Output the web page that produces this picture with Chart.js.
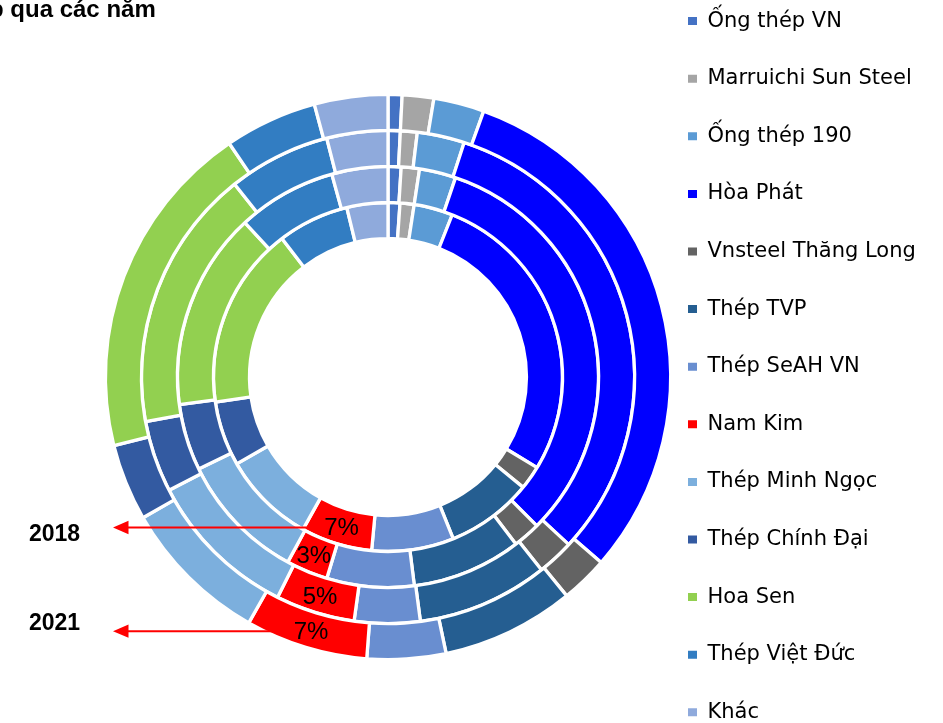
<!DOCTYPE html>
<html>
<head>
<meta charset="utf-8">
<script src="https://cdn.jsdelivr.net/npm/chart.js@4.4.1/dist/chart.umd.min.js"></script>
<style>
html,body{margin:0;padding:0;background:#fff;overflow:hidden;width:943px;height:723px;}
#wrap{position:relative;width:943px;height:723px;overflow:hidden;background:#fff;}
#c{position:absolute;left:0;top:-26px;width:943px;height:806px;}
#title{position:absolute;left:-11px;top:-3px;font:bold 24px "Liberation Sans",Arial,sans-serif;line-height:24px;color:#000;white-space:nowrap;}
</style>
</head>
<body>
<div id="wrap">
  <canvas id="c" width="943" height="806"></canvas>
  <div id="title">p qua các năm</div>
</div>
<script>
// ---- data (market share %) ----
const categories = ['Ống thép VN','Marruichi Sun Steel','Ống thép 190','Hòa Phát','Vnsteel Thăng Long','Thép TVP','Thép SeAH VN','Nam Kim','Thép Minh Ngọc','Thép Chính Đại','Hoa Sen','Thép Việt Đức','Khác'];
const years = ['2018','2019','2020','2021'];
const share2018 = [1.1, 1.3, 3.6, 27.7, 2.2, 8.0, 7.6, 6.6, 8.6, 6.0, 16.9, 6.6, 3.8];
const share2019 = [1.0, 1.4, 2.8, 32.3, 2.1, 8.4, 6.7, 3.2, 9.9, 5.1, 15.2, 7.6, 4.3];
const share2020 = [0.8, 1.1, 3.1, 31.9, 2.4, 8.6, 4.3, 5.2, 10.0, 4.7, 17.2, 6.7, 4.0];
const share2021 = [0.8, 1.8, 2.9, 30.9, 2.7, 7.6, 4.5, 7.0, 8.5, 4.4, 19.4, 5.3, 4.2];
const colors = ['#4472C4','#A5A5A5','#5B9BD5','#0000FF','#636363','#255E91','#698ED0','#FF0000','#7CAFDD','#335AA1','#92D050','#327DC2','#8FAADC'];
const highlightCategory = 'Nam Kim';
const arrowYears = ['2018','2021'];

// ---- layout ----
const CENTER_X = 388;
const LEGEND_BOX_X = 688;
const LEGEND_FONT = 21, LEGEND_PAD = 36.6, BOX_W = 9, BOX_H = 8;
const mctx = document.createElement('canvas').getContext('2d');
mctx.font = LEGEND_FONT + 'px DejaVu Sans';
const maxText = Math.max(...categories.map(t => mctx.measureText(t).width));
// Chart.js adds 10px to the width of a vertical legend
const padRight = 943 - LEGEND_BOX_X - (BOX_W + LEGEND_FONT / 2 + maxText) - 10;
const chartRight = LEGEND_BOX_X - LEGEND_PAD;
const padLeft = 2 * CENTER_X - chartRight;

// outer ring first (2021) -> inner ring (2018)
const rings = [
  {year: '2021', data: share2021},
  {year: '2020', data: share2020},
  {year: '2019', data: share2019},
  {year: '2018', data: share2018}
];

Chart.defaults.font.family = 'Liberation Sans';

const annotations = {
  id: 'annotations',
  afterDatasetsDraw(chart) {
    const ctx = chart.ctx;
    const k = categories.indexOf(highlightCategory);
    const pts = {};
    chart.data.datasets.forEach((ds, di) => {
      const arc = chart.getDatasetMeta(di).data[k];
      pts[ds.label] = arc.tooltipPosition();
    });
    ctx.save();
    arrowYears.forEach((yr, j) => {
      const p = pts[yr];
      const y = p.y + 1;
      const tipX = 113;
      ctx.strokeStyle = '#FF0000';
      ctx.fillStyle = '#FF0000';
      ctx.lineWidth = 2;
      ctx.beginPath();
      ctx.moveTo(tipX + 14, y);
      ctx.lineTo(p.x - 18, y);
      ctx.stroke();
      ctx.beginPath();
      ctx.moveTo(tipX, y);
      ctx.lineTo(tipX + 15.5, y - 6.7);
      ctx.lineTo(tipX + 15.5, y + 6.7);
      ctx.closePath();
      ctx.fill();
      ctx.fillStyle = '#000';
      ctx.font = 'bold 23px Liberation Sans';
      ctx.textAlign = 'left';
      ctx.textBaseline = 'middle';
      ctx.fillText(yr, 29, y + (j === 0 ? 7 : -7));
    });
    ctx.font = '24px Liberation Sans';
    ctx.textAlign = 'center';
    ctx.textBaseline = 'middle';
    ctx.fillStyle = '#000';
    chart.data.datasets.forEach(ds => {
      const total = ds.data.reduce((a, b) => a + b, 0);
      const p = pts[ds.label];
      ctx.fillText(Math.round(ds.data[k] / total * 100) + '%', p.x, p.y + 2);
    });
    ctx.restore();
  }
};

new Chart(document.getElementById('c'), {
  type: 'doughnut',
  data: {
    labels: categories,
    datasets: rings.map(r => ({
      label: r.year,
      data: r.data,
      backgroundColor: colors,
      borderColor: '#ffffff',
      borderWidth: 3.3,
      hoverOffset: 0
    }))
  },
  options: {
    responsive: false,
    animation: false,
    events: [],
    radius: 282.6,
    cutout: '49%',
    layout: {padding: {left: padLeft, right: padRight, top: 0, bottom: 0}},
    plugins: {
      tooltip: {enabled: false},
      legend: {
        position: 'right',
        align: 'start',
        labels: {
          font: {family: 'DejaVu Sans', size: LEGEND_FONT},
          color: '#000',
          padding: LEGEND_PAD,
          boxWidth: BOX_W,
          boxHeight: BOX_H,
          generateLabels(chart) {
            const items = Chart.overrides.doughnut.plugins.legend.labels.generateLabels(chart);
            items.forEach(it => { it.lineWidth = 0; it.strokeStyle = 'rgba(0,0,0,0)'; });
            return items;
          }
        }
      }
    }
  },
  plugins: [annotations]
});
</script>
</body>
</html>
